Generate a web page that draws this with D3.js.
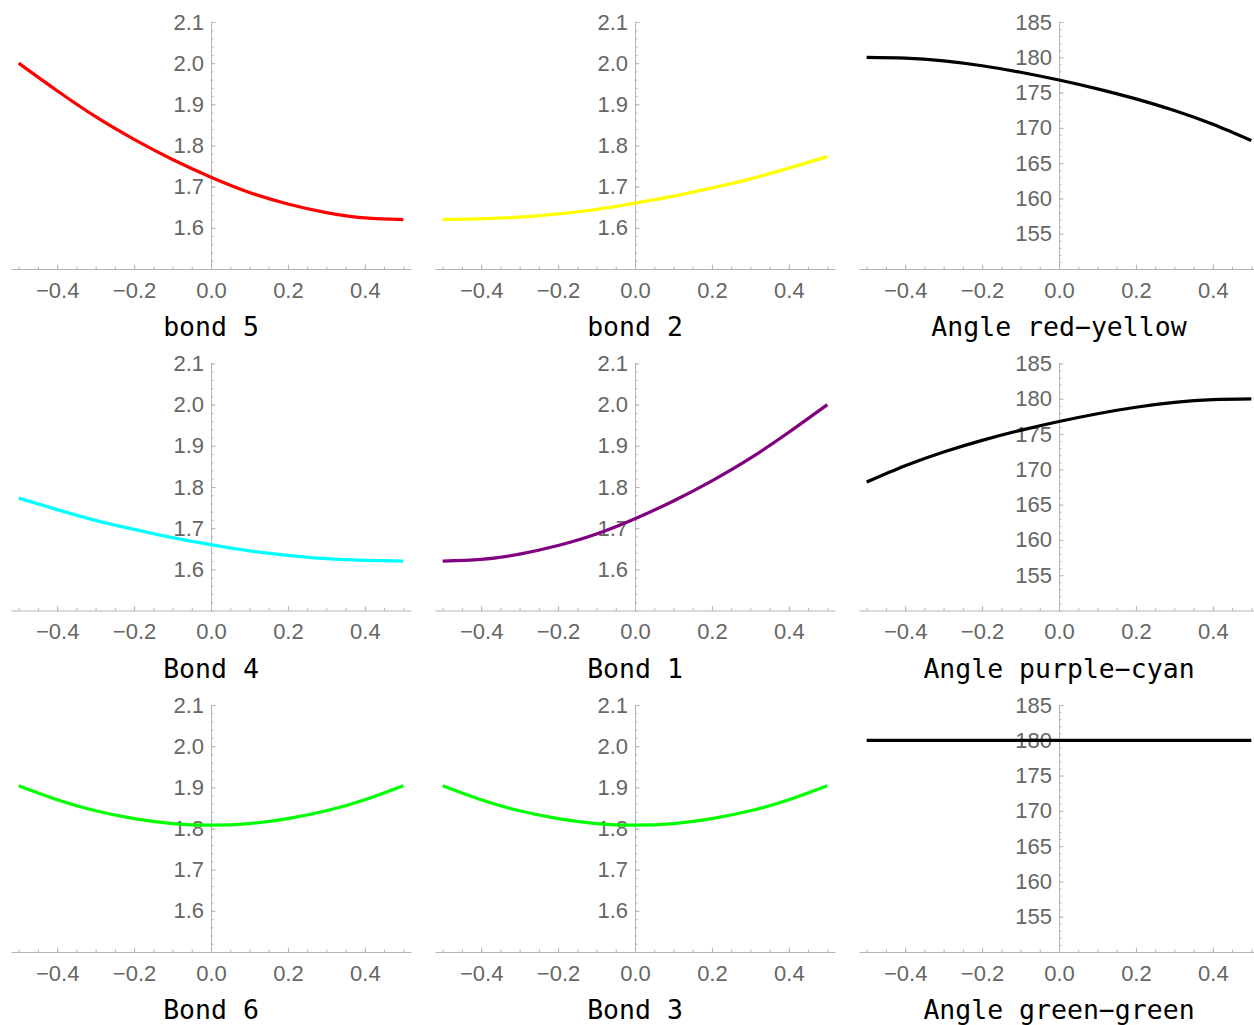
<!DOCTYPE html>
<html>
<head>
<meta charset="utf-8">
<script src="https://cdn.jsdelivr.net/npm/d3@7"></script>
<style>
  body { margin: 0; background: #fff; }
  .tick text { font-family: "Liberation Sans", Arial, sans-serif; font-size: 22px; fill: #666; }
  .title { font-family: "DejaVu Sans Mono", monospace; font-size: 26.5px; fill: #000; }
</style>
</head>
<body>
<div id="chart"></div>
<script>
// displacement values along x
const xs = [-0.5, -0.4, -0.3, -0.2, -0.1, 0.0, 0.1, 0.2, 0.3, 0.4, 0.5];

// bond lengths
const bond5 = [2.000, 1.933, 1.870, 1.815, 1.766, 1.723, 1.686, 1.658, 1.637, 1.624, 1.620];
const bond2 = [1.620, 1.622, 1.626, 1.634, 1.645, 1.660, 1.677, 1.697, 1.719, 1.745, 1.773];
const bond4 = [1.773, 1.745, 1.719, 1.697, 1.677, 1.660, 1.645, 1.634, 1.626, 1.622, 1.620];
const bond1 = [1.620, 1.624, 1.637, 1.658, 1.686, 1.723, 1.766, 1.815, 1.870, 1.933, 2.000];
const bond6 = [1.904, 1.870, 1.843, 1.824, 1.812, 1.808, 1.812, 1.824, 1.843, 1.870, 1.904];
const bond3 = [1.904, 1.870, 1.843, 1.824, 1.812, 1.808, 1.812, 1.824, 1.843, 1.870, 1.904];

// angles
const angleRedYellow  = [180.0, 179.88, 179.48, 178.8, 177.88, 176.78, 175.53, 174.11, 172.46, 170.51, 168.2];
const anglePurpleCyan = [168.2, 170.51, 172.46, 174.11, 175.53, 176.78, 177.88, 178.8, 179.48, 179.88, 180.0];
const angleGreenGreen = [180, 180, 180, 180, 180, 180, 180, 180, 180, 180, 180];

// tick values
const xMajor = [-0.4, -0.2, 0.0, 0.2, 0.4];
const xMinor = d3.range(-10, 11).map(i => i * 0.05);
const bondMajor = [1.6, 1.7, 1.8, 1.9, 2.0, 2.1];
const bondMinor = d3.range(0, 31).map(i => 1.5 + i * 0.02);
const angleMajor = [155, 160, 165, 170, 175, 180, 185];
const angleMinor = d3.range(150, 186);

const panels = [
  { title: "bond 5", values: bond5, color: "#ff0000", kind: "bond", col: 0, row: 0 },
  { title: "bond 2", values: bond2, color: "#ffff00", kind: "bond", col: 1, row: 0 },
  { title: "Angle red\u2212yellow", values: angleRedYellow, color: "#000000", kind: "angle", col: 2, row: 0 },
  { title: "Bond 4", values: bond4, color: "#00ffff", kind: "bond", col: 0, row: 1 },
  { title: "Bond 1", values: bond1, color: "#800080", kind: "bond", col: 1, row: 1 },
  { title: "Angle purple\u2212cyan", values: anglePurpleCyan, color: "#000000", kind: "angle", col: 2, row: 1 },
  { title: "Bond 6", values: bond6, color: "#00ff00", kind: "bond", col: 0, row: 2 },
  { title: "Bond 3", values: bond3, color: "#00ff00", kind: "bond", col: 1, row: 2 },
  { title: "Angle green\u2212green", values: angleGreenGreen, color: "#000000", kind: "angle", col: 2, row: 2 }
];

const width = 1254, height = 1025;
const colStep = 424, rowStep = 341.5;

const svg = d3.select("#chart").append("svg")
  .attr("width", width)
  .attr("height", height);

const x = d3.scaleLinear().domain([-0.52, 0.52]).range([11, 411]);
const yBond = d3.scaleLinear().domain([1.5, 2.1]).range([269, 22]);
const yAngle = d3.scaleLinear().domain([150, 185]).range([269, 22]);

panels.forEach(p => {
  const g = svg.append("g")
    .attr("transform", `translate(${p.col * colStep},${p.row * rowStep})`);
  const y = p.kind === "bond" ? yBond : yAngle;
  const yMaj = p.kind === "bond" ? bondMajor : angleMajor;
  const yMin = p.kind === "bond" ? bondMinor : angleMinor;
  const yFmt = p.kind === "bond" ? d3.format(".1f") : d3.format("d");

  // x axis (crosses at y minimum)
  const gx = g.append("g").attr("transform", `translate(0,${y.range()[0]})`);
  gx.append("g")
    .call(d3.axisBottom(x).tickValues(xMinor).tickSizeInner(-2.5).tickSizeOuter(0).tickFormat(""))
    .call(a => a.select(".domain").remove());
  gx.append("g")
    .call(d3.axisBottom(x).tickValues(xMajor).tickSizeInner(-4.5).tickSizeOuter(0)
      .tickPadding(13).tickFormat(d3.format(".1f")));

  // y axis (at x = 0)
  const gy = g.append("g").attr("transform", `translate(${x(0)},0)`);
  gy.append("g")
    .call(d3.axisLeft(y).tickValues(yMin).tickSizeInner(-2.5).tickSizeOuter(0).tickFormat(""))
    .call(a => a.select(".domain").remove());
  gy.append("g")
    .call(d3.axisLeft(y).tickValues(yMaj).tickSizeInner(-4.5).tickSizeOuter(0)
      .tickPadding(7).tickFormat(yFmt));

  g.selectAll(".domain, .tick line").attr("stroke", "#b4b4b4").attr("stroke-width", 1);

  // curve
  const line = d3.line()
    .x((d, i) => x(xs[i]))
    .y(d => y(d))
    .curve(d3.curveNatural);
  g.append("path")
    .datum(p.values)
    .attr("fill", "none")
    .attr("stroke", p.color)
    .attr("stroke-width", 3.2)
    .attr("d", line);

  g.append("text")
    .attr("class", "title")
    .attr("x", x(0))
    .attr("y", 336)
    .attr("text-anchor", "middle")
    .text(p.title);
});
</script>
</body>
</html>
